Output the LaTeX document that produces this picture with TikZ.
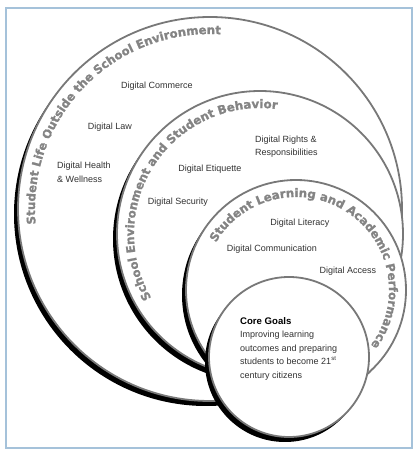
\documentclass[tikz,border=0pt]{standalone}
\usepackage{fontspec}
\setmainfont{Liberation Sans}
\newfontfamily\ringfont[FakeBold=1.2]{DejaVu Sans Bold}
\usetikzlibrary{decorations.text}
\definecolor{frameblue}{RGB}{165,194,218}
\definecolor{ringgray}{RGB}{120,120,120}
\definecolor{bandgray}{RGB}{132,132,132}
\definecolor{labelgray}{RGB}{50,50,50}

\begin{document}
\begin{tikzpicture}[x=1pt, y=1pt,
  ring/.style={circle, draw=ringgray, line width=1.8pt, fill=white, inner sep=0pt},
  ringshadow/.style={circle, fill=black, inner sep=0pt},
  topic/.style={font=\fontsize{9}{13.5}\selectfont, text=labelgray, inner sep=0pt},
  band/.style={decorate, decoration={text along path, text align=left,
    text color=bandgray, text format delimiters={|}{|},
    text={|\ringfont\fontsize{11.8}{12}\selectfont|#1}}}]

  \useasboundingbox (0,0) rectangle (420,451);
  \draw[frameblue, line width=1.4pt] (6,3) rectangle (412,443);

  % outer ring
  \node[ringshadow, minimum size=384] (outershadow) at (206,237) {};
  \node[ring, minimum size=384] (outer) at (210,242) {};
  \path[band={Student Life Outside the School Environment}]
    ([shift={(185:175)}]outer.center) arc[start angle=185, end angle=30, radius=175];

  % school ring
  \node[ringshadow, minimum size=286] (schoolshadow) at (256,212) {};
  \node[ring, minimum size=286] (school) at (260,217) {};
  \path[band={School Environment and Student Behavior}]
    ([shift={(210.5:126)}]school.center) arc[start angle=210.5, end angle=20, radius=126];

  % learning ring
  \node[ringshadow, minimum size=220] (learnshadow) at (292,156) {};
  \node[ring, minimum size=220] (learn) at (296,161) {};
  \path[band={Student Learning and Academic Performance}]
    ([shift={(149.4:93)}]learn.center) arc[start angle=149.4, end angle=-80, radius=93];

  % core
  \node[ringshadow, minimum size=160] (coreshadow) at (285,89) {};
  \node[ring, minimum size=160] (corering) at (289,94) {};

  \node[topic] (commerce) at (157,365) {Digital Commerce};
  \node[topic] (law) at (110,324) {Digital Law};
  \node[topic, anchor=west, align=left] (health) at (57,278.5) {Digital Health\\\& Wellness};
  \node[topic, anchor=west, align=left] (rights) at (255,304.5) {Digital Rights \&\\Responsibilities};
  \node[topic] (etiquette) at (210,282) {Digital Etiquette};
  \node[topic] (security) at (178,249) {Digital Security};
  \node[topic] (literacy) at (300,228) {Digital Literacy};
  \node[topic] (communication) at (272,202) {Digital Communication};
  \node[topic] (access) at (348,180) {Digital Access};
  \node[topic, anchor=west, align=left] (goals) at (240,102.5)
    {{\bfseries\color{black}\fontsize{9.6}{13.5}\selectfont Core Goals}\\Improving learning\\outcomes and preparing\\students to become 21\textsuperscript{st}\\century citizens};
\end{tikzpicture}
\end{document}
